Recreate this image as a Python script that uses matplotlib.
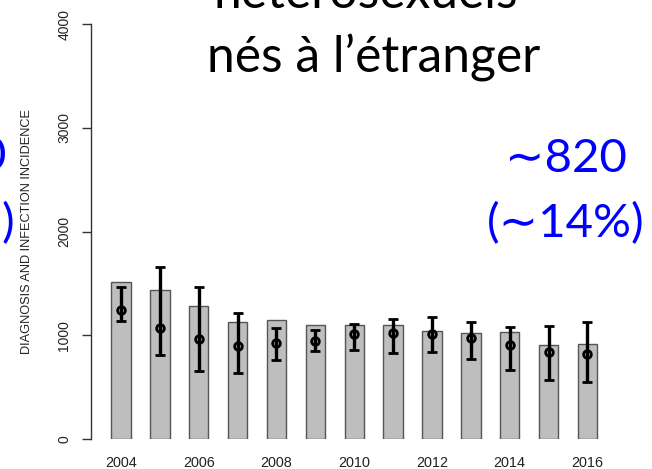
import numpy as np
import matplotlib.pyplot as plt

years = [2004, 2005, 2006, 2007, 2008, 2009, 2010, 2011, 2012, 2013, 2014, 2015, 2016]
diagnoses = [1510, 1440, 1285, 1125, 1150, 1095, 1095, 1095, 1040, 1020, 1035, 905, 915]
incidence = [1240, 1070, 960, 895, 930, 945, 1015, 1020, 1015, 970, 905, 835, 820]
inc_low = [1140, 810, 655, 640, 760, 850, 860, 830, 840, 770, 670, 565, 545]
inc_high = [1465, 1660, 1465, 1215, 1070, 1050, 1110, 1160, 1175, 1130, 1080, 1090, 1130]
year_labels = ['2004', '2006', '2008', '2010', '2012', '2014', '2016']
y_ticks = [0, 1000, 2000, 3000, 4000]

W, H = 652, 469
fig = plt.figure(figsize=(W / 100, H / 100), dpi=100)

def fx(px):
    return px / W

def fy(py):
    return 1 - py / H

# axes box: 0 at y=439, 4000 at y=24
ax = fig.add_axes([fx(90.7), fy(439), fx(620) - fx(90.7), fy(24.3) - fy(439)])

x = np.arange(len(years))
ax.bar(x, diagnoses, width=0.5, color='#bebebe', edgecolor='#555555', linewidth=1.0)
inc = np.array(incidence)
yerr = [inc - np.array(inc_low), np.array(inc_high) - inc]
ax.errorbar(x, inc, yerr=yerr, fmt='o', color='black', ecolor='black',
            elinewidth=2.4, capsize=3.8, capthick=2.4,
            markersize=5.5, markerfacecolor='none', markeredgewidth=2.0)

ax.set_xlim(-0.779, 12.836)
ax.set_ylim(0, 4000)
for side in ['top', 'right', 'bottom']:
    ax.spines[side].set_visible(False)
ax.spines['left'].set_color('#333333')
ax.spines['left'].set_linewidth(1.0)

ax.set_xticks([years.index(int(s)) for s in year_labels])
ax.set_xticklabels(year_labels, fontsize=10.4, family='Liberation Sans', color='#222222')
ax.tick_params(axis='x', length=0, pad=12.5)

ax.set_yticks(y_ticks)
ax.set_yticklabels([str(v) for v in y_ticks], rotation=90, va='center',
                   fontsize=10, family='Liberation Sans', color='#222222')
ax.tick_params(axis='y', length=6.5, width=1.0, color='#333333', pad=7.5)

fig.text(fx(27), fy(231), 'DIAGNOSIS AND INFECTION INCIDENCE', rotation=90,
         ha='center', va='center', fontsize=9.2, family='Liberation Sans', color='#222222')

# heading, first line runs off the top
title_font = ['Lato', 'DejaVu Sans']
fig.text(fx(366), fy(8), 'hétérosexuels', ha='center', va='baseline',
         fontsize=35.8, family=title_font, color='black')
fig.text(fx(374), fy(73), 'nés à l’étranger', ha='center', va='baseline',
         fontsize=35.8, family=title_font, color='black')

# annotation for 2016
fig.text(fx(566), fy(172), '∼820', ha='center', va='baseline',
         fontsize=34, family=title_font, color='#0000ff')
fig.text(fx(566), fy(237), '(∼14%)', ha='center', va='baseline',
         fontsize=34, family=title_font, color='#0000ff')

# neighbouring panel's annotation, cut by the left edge
fig.text(fx(6), fy(170), '0', ha='right', va='baseline',
         fontsize=34, family=title_font, color='#0000ff')
fig.text(fx(14), fy(237), ')', ha='right', va='baseline',
         fontsize=34, family=title_font, color='#0000ff')

fig.savefig('out.png', dpi=100)
